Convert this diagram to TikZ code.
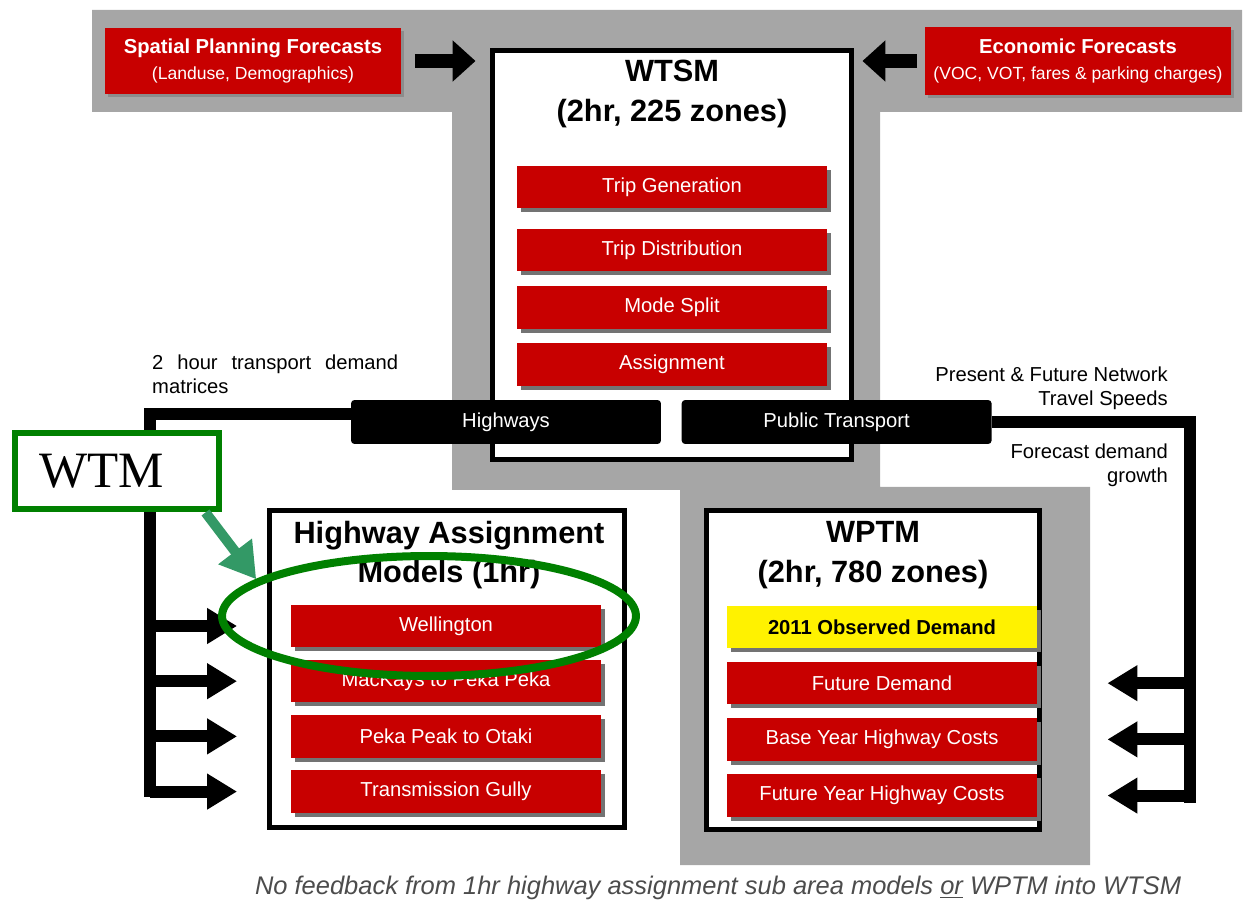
\documentclass[tikz,border=0pt]{standalone}
\usepackage{fontspec}
\setmainfont{Liberation Sans}
\newfontfamily\tagfont{Liberation Serif}
\usepackage{tikz}
\usetikzlibrary{positioning}
\usetikzlibrary{arrows.meta}
\usetikzlibrary{shadows}
\usetikzlibrary{shapes.geometric}
\definecolor{barred}{RGB}{200,0,0}
\definecolor{backgray}{RGB}{166,166,166}
\definecolor{taggreen}{RGB}{0,128,0}
\definecolor{pointgreen}{RGB}{51,153,102}

\begin{document}
\begin{tikzpicture}
		[x=0.02cm, y=-0.02cm,
		redbar/.style={fill=barred, text=white, inner sep=0pt, minimum width=6.2cm, minimum height=0.85cm, font=\fontsize{11.5}{13}\selectfont, general shadow={fill=black!55, shadow xshift=0.08cm, shadow yshift=-0.08cm}},
		ylwbar/.style={redbar, fill=yellow, text=black, font=\bfseries\fontsize{11.5}{13}\selectfont},
		srcbox/.style={fill=barred, text=white, inner sep=0pt, align=center, font=\fontsize{11.5}{14.7}\selectfont, general shadow={fill=black!45, shadow xshift=0.06cm, shadow yshift=-0.06cm}},
		blkbar/.style={fill=black, text=white, rounded corners=2pt, inner sep=0pt, minimum width=6.2cm, minimum height=0.88cm, font=\fontsize{11.5}{13}\selectfont},
		modelbox/.style={draw=black, line width=0.1cm, fill=white, inner sep=0pt},
		title/.style={align=center, font=\bfseries\fontsize{17.5}{22.5}\selectfont},
		note/.style={font=\fontsize{11.5}{13.6}\selectfont},
		fatarrow/.style={line width=0.28cm, -{Triangle[length=0.46cm, width=0.8cm]}},
		pipe/.style={line width=0.24cm},
		feed/.style={line width=0.24cm, -{Triangle[length=0.6cm, width=0.68cm]}},
		tagbox/.style={draw=taggreen, line width=0.12cm, fill=white, minimum height=1.54cm, text width=3.1cm, inner xsep=0.5cm, align=left, font=\tagfont\fontsize{29}{30}\selectfont},
		hilite/.style={ellipse, draw=taggreen, line width=0.16cm, inner sep=0pt},
		pointer/.style={draw=pointgreen, line width=0.2cm, -{Triangle[length=0.7cm, width=0.8cm]}}]
		\useasboundingbox (0,0) rectangle (1245,905);
		\fill[backgray] (92,10) -- (1242,10) -- (1242,112) -- (880,112) -- (880,487) -- (1090,487) -- (1090,865) -- (680,865) -- (680,490) -- (452,490) -- (452,112) -- (92,112) -- cycle;

		\node[srcbox, minimum width=5.94cm, minimum height=1.34cm] (spf) at (253,61) {\textbf{Spatial Planning Forecasts}\\{\fontsize{10}{12}\selectfont(Landuse, Demographics)}};
		\node[srcbox, minimum width=6.14cm, minimum height=1.36cm] (eco) at (1078,61) {\textbf{Economic Forecasts}\\{\fontsize{10}{12}\selectfont(VOC, VOT, fares \& parking charges)}};

		\node[modelbox, minimum width=7.2cm, minimum height=8.2cm] (wtsm) at (672,255) {};
		\node[title] (wtsmtitle) at (672,94) {WTSM\\(2hr, 225 zones)};
		\node[redbar] (tg) at (672,187) {Trip Generation};
		\node[redbar, below=0.4cm of tg] (td) {Trip Distribution};
		\node[redbar, below=0.28cm of td] (ms) {Mode Split};
		\node[redbar, below=0.28cm of ms] (as) {Assignment};

		\node[blkbar] (hw) at (506,422) {Highways};
		\node[blkbar, right=0.4cm of hw] (pt) {Public Transport};

		\node[modelbox, minimum width=7.1cm, minimum height=6.36cm] (ham) at (447,669) {};
		\node[title] (hamtitle) at (449,555) {Highway Assignment\\Models (1hr)};
		\node[redbar] (wel) at (446,626) {Wellington};
		\node[redbar, below=0.24cm of wel] (mac) {MacKays to Peka Peka};
		\node[redbar, below=0.24cm of mac] (pko) {Peka Peak to Otaki};
		\node[redbar, below=0.24cm of pko] (tgu) {Transmission Gully};

		\node[modelbox, minimum width=6.68cm, minimum height=6.4cm] (wptm) at (873,670) {};
		\node[title] (wptmtitle) at (873,555) {WPTM\\(2hr, 780 zones)};
		\node[ylwbar] (obs) at (882,627) {2011 Observed Demand};
		\node[redbar, below=0.26cm of obs] (fd) {Future Demand};
		\node[redbar, below=0.26cm of fd] (byc) {Base Year Highway Costs};
		\node[redbar, below=0.26cm of byc] (fyc) {Future Year Highway Costs};

		\coordinate (ltrunk) at (150,797);
		\coordinate (rtrunk) at (1190,803);

		\draw[fatarrow, shorten <=0.26cm, shorten >=0.28cm] (spf.east) -- (wtsm.west |- spf.east);
		\draw[fatarrow, shorten <=0.14cm, shorten >=0.16cm] (eco.west) -- (wtsm.east |- eco.west);
		\draw[pipe] ([yshift=0.16cm]hw.west) -| (ltrunk);
		\draw[pipe] (pt.east) -| (rtrunk);
		\foreach \bar in {wel, mac, pko, tgu}
			\draw[feed, shorten >=0.6cm] (ltrunk |- \bar) -- (ham.west |- \bar);
		\foreach \bar in {fd, byc, fyc}
			\draw[feed, shorten >=1.3cm] (rtrunk |- \bar) -- (wptm.east |- \bar);

		\node[note, anchor=north west, text width=4.92cm, align=justify] (demand) at (146,349) {2 hour transport demand matrices};
		\node[note, anchor=north east, align=right] (speeds) at (1174,361) {Present \& Future Network\\Travel Speeds};
		\node[note, anchor=north east, align=right] (growth) at (1174,438) {Forecast demand\\growth};
		\node[text=black!70, font=\itshape\fontsize{14.5}{16}\selectfont] (nofeed) at (718,888) {No feedback from 1hr highway assignment sub area models \underline{or} WPTM into WTSM};

		\node[tagbox] (wtm) at (117,471) {WTM};
		\node[hilite, minimum width=8.28cm, minimum height=2.4cm] (ring) at (429,616) {};
		\draw[pointer] ([xshift=-0.34cm]wtm.south east) -- (ring.168);
	\end{tikzpicture}
\end{document}
